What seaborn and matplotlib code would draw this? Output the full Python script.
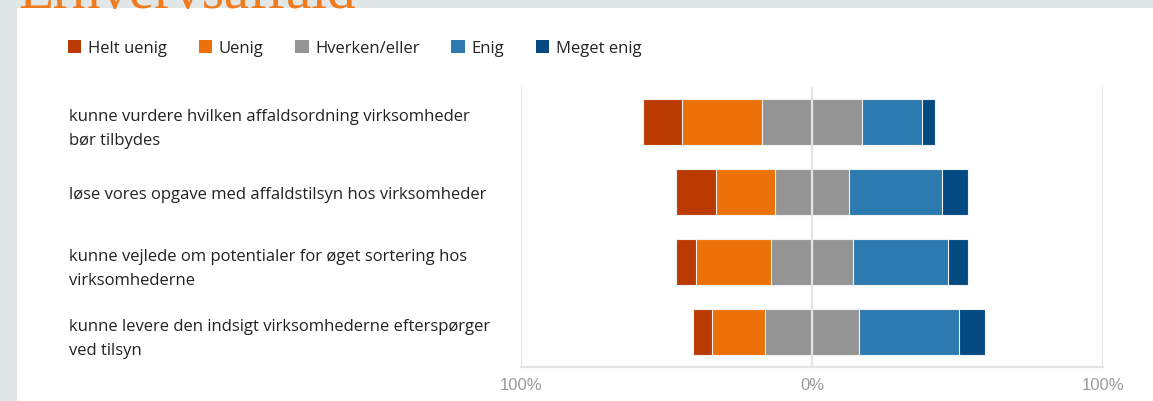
import matplotlib
matplotlib.use("Agg")
import matplotlib.pyplot as plt
import seaborn as sns
from matplotlib.patches import Patch, Rectangle

# Survey statements (y categories)
statements = [
    "kunne vurdere hvilken affaldsordning virksomheder\nbør tilbydes",
    "løse vores opgave med affaldstilsyn hos virksomheder",
    "kunne vejlede om potentialer for øget sortering hos\nvirksomhederne",
    "kunne levere den indsigt virksomhederne efterspørger\nved tilsyn",
]
responses = ["Helt uenig", "Uenig", "Hverken/eller", "Enig", "Meget enig"]

# Share of answers per statement (%)
helt_uenig = [13.4, 13.5, 6.7, 6.8]
uenig = [27.5, 20.5, 25.7, 18.2]
hverken = [34.3, 25.2, 28.3, 32.0]
enig = [20.6, 32.0, 32.5, 34.3]
meget_enig = [4.4, 8.9, 7.0, 8.9]

colors = ["#BA3A02", "#EC7108", "#949494", "#2C7AB0", "#034A82"]
x_ticks = [-100, 0, 100]
x_tick_labels = ["100%", "0%", "100%"]
title = "Erhvervsaffald"

W, H = 1153, 402
fig = plt.figure(figsize=(W / 100, H / 100), dpi=100)
sns.set_style("white")
plt.rcParams["font.family"] = ["Open Sans", "DejaVu Sans"]

fig.patch.set_facecolor("#E1E7E7")
fig.patches.append(Rectangle((17 / W, 0), 1, (H - 9) / H, transform=fig.transFigure,
                             facecolor="white", edgecolor="none", zorder=-1))
fig.text(18 / W, 1 - 8 / H, title, fontsize=41, family="Liberation Serif",
         color="#F07A1E", va="baseline", ha="left")

ax = fig.add_axes([520.7 / W, 1 - 368 / H, 582.7 / W, 280 / H])
ax.set_facecolor("none")

# Diverging stacked bars: the neutral share is split around zero.
half = [h / 2 for h in hverken]
neg_inner = [-h for h in half]
neg_mid = [-(u + h) for u, h in zip(uenig, half)]
neg_outer = [-(a + u + h) for a, u, h in zip(helt_uenig, uenig, half)]
pos_inner = half
pos_mid = [h + e for h, e in zip(half, enig)]
pos_outer = [h + e + m for h, e, m in zip(half, enig, meget_enig)]

layers = [
    (neg_outer, colors[0]), (neg_mid, colors[1]), (neg_inner, colors[2]),
    (pos_outer, colors[4]), (pos_mid, colors[3]), (pos_inner, colors[2]),
]
for vals, col in layers:
    sns.barplot(x=vals, y=statements, orient="h", color=col, saturation=1,
                width=0.67, edgecolor="#f2f2f2", linewidth=0.8, ax=ax, zorder=2)

ax.set_xlim(-100, 100)
ax.set_ylim(3.5, -0.5)
ax.set_xlabel("")
ax.set_ylabel("")

for x in x_ticks:
    ax.axvline(x, color="#e4e4e4", lw=1.6, zorder=5 if x == 0 else 1)

for s in ["left", "right", "top"]:
    ax.spines[s].set_visible(False)
ax.spines["bottom"].set_color("#e4e4e4")
ax.spines["bottom"].set_linewidth(1.6)

ax.set_xticks(x_ticks, x_tick_labels, family="Liberation Sans", fontsize=12, color="#9a9a9a")
ax.tick_params(axis="x", length=0, pad=7)
ax.set_yticks(range(len(statements)), statements, ha="left", fontsize=12,
              color="#222222", linespacing=1.7)
ax.tick_params(axis="y", length=0, pad=(520.7 - 69) * 0.72)

handles = [Patch(facecolor=c, edgecolor="none", label=r) for c, r in zip(colors, responses)]
fig.legend(handles=handles, loc="center left", bbox_to_anchor=(68 / W, 1 - 49 / H),
           ncol=5, frameon=False, fontsize=12, handlelength=0.8, handleheight=0.8,
           handletextpad=0.4, columnspacing=1.9, borderpad=0, borderaxespad=0,
           labelcolor="#222222")

fig.savefig("out.png", dpi=100)
